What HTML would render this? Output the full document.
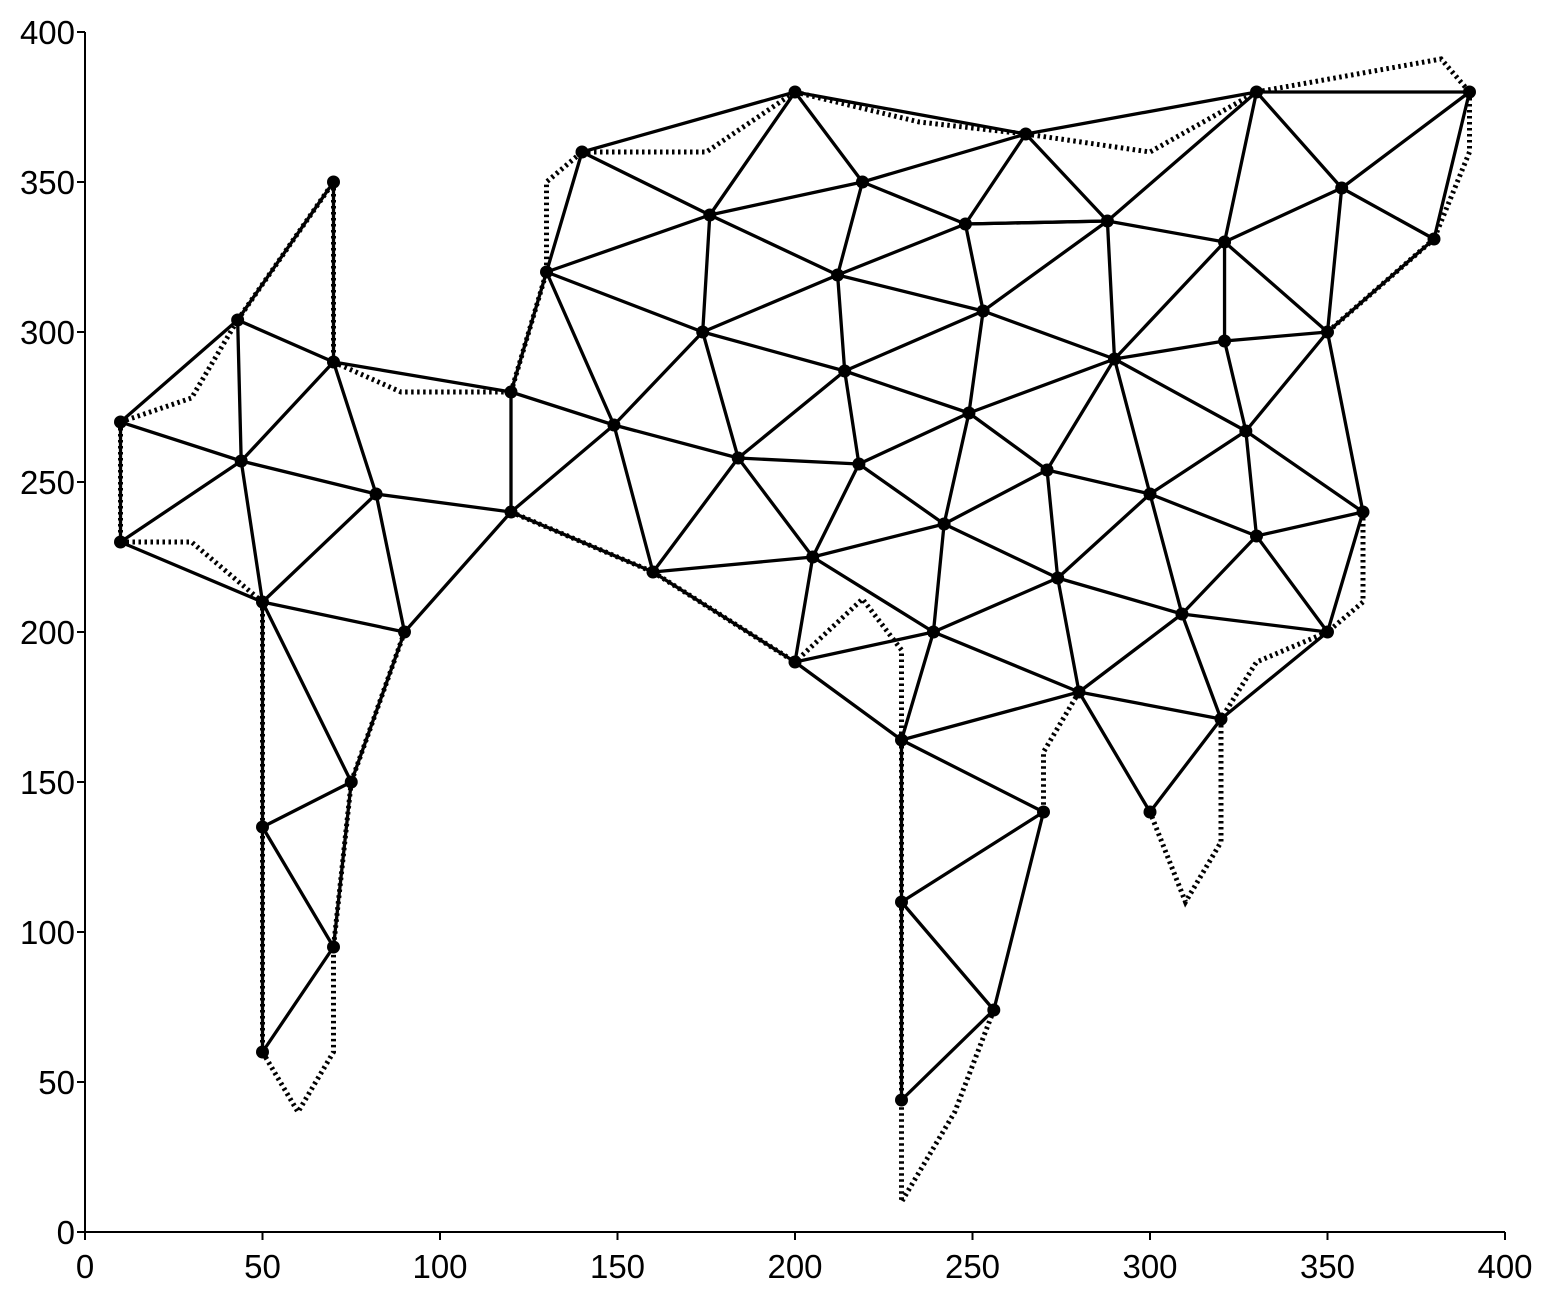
<!DOCTYPE html>
<html><head><meta charset="utf-8"><style>
html,body{margin:0;padding:0;background:#fff}
svg text{font-family:"Liberation Sans",Arial,sans-serif;font-size:33px;fill:#000}
</style></head><body>
<svg id="chart" width="1542" height="1302" viewBox="0 0 1542 1302" xmlns="http://www.w3.org/2000/svg">
<g id="axes"></g>
<g id="dotted"></g>
<g id="edges"></g>
<g id="nodes"></g>
</svg>
<script>
const xTicks=[0,50,100,150,200,250,300,350,400];
const yTicks=[0,50,100,150,200,250,300,350,400];
const nodeNames=["A","B","C","D","E","F","G","H","I","J","K","L","M","N","O","P","Q","R","S","T","U","V","W","X","Y","Z","AA","AB","AC","AD","AE","AF","AG","AH","AI","AJ","AK","AL","AM","AN","AO","AP","AQ","AR","AS","AT","AU","AV","AW","AX","AY","AZ","BA","BB","BC","BD","BE","BF","BG","BH"];
const nodeX=[10,10,43,44,70,70,82,50,90,75,50,70,50,120,120,130,140,200,149,160,176,174,184,219,212,214,218,205,200,265,248,253,249,242,239,230,288,290,271,274,280,300,309,320,270,300,230,256,230,330,390,321,354,380,321,350,327,360,330,350];
const nodeY=[270,230,304,257,350,290,246,210,200,150,135,95,60,280,240,320,360,380,269,220,339,300,258,350,319,287,256,225,190,366,336,307,273,236,200,164,337,291,254,218,180,246,206,171,140,140,110,74,44,380,380,330,348,331,297,300,267,240,232,200];
const edgeList=["A-B","A-C","A-D","B-D","B-H","C-D","C-F","C-E","E-F","D-F","D-G","D-H","F-G","F-N","G-H","G-I","G-O","H-I","H-J","H-K","I-J","I-O","J-K","J-L","K-L","K-M","L-M","N-O","N-S","O-S","O-T","N-P",
"Q-R","R-AD","R-U","R-X","X-AD","X-Y","X-AE","U-X","Q-U","Q-P","U-Y","U-V","P-U","P-V","P-S","V-Y","Y-AE","Y-Z","Y-AF","AE-AF","AE-AK","AF-Z","AF-AG","AF-AL","AF-AK","V-S","V-W","V-Z","S-W","S-T","W-Z","W-AA","W-AB","W-T","Z-AA","Z-AG","AA-AG","AA-AB","AA-AH","AG-AL","AG-AM","AG-AH",
"AD-AX","AD-AE","AD-AK","AX-AY","AX-AK","AX-AZ","AX-BA","AY-BA","AY-BB","BA-AZ","BA-BB","BA-BD","BB-BD","AE-AK","AK-AZ","AK-AL","AZ-AL","AZ-BC","AZ-BD","BC-AL","BC-BD","BC-BE","BD-BE","BD-BF","AL-AM","AL-AP","AL-BE","AM-AH","AM-AP","AM-AN","AP-BE","AP-BG","AP-AN","AP-AQ","BE-BG","BE-BF","BF-BG","BG-AQ","BG-BH","BF-BH",
"AB-T","AB-AH","AB-AC","AB-AI","T-AC","AH-AI","AH-AN","AN-AI","AN-AQ","AN-AO","AI-AC","AI-AJ","AI-AO","AQ-AO","AQ-BH","AQ-AR","AO-AR","AO-AJ","AO-AT","AJ-AC","AJ-AS","AJ-AU","AR-BH","AR-AT","AS-AU","AS-AV","AU-AW","AU-AV","AW-AV"];
const dottedX=[[10,30,43],[10,30,50],[70,89,120],[50,60,70,70],[75,70],[90,75],[120,140,160],[120,130,130,140],[140,175,200],[200,235,265],[265,300,330],[330,382,390],[390,390,380],[380,350],[360,360,350],[350,330,320],[320,320,310,300],[280,270,270],[256,245,230,230],[230,230,219,200],[160,200],[50,50],[70,70],[10,10],[43,70],[230,230]];
const dottedY=[[270,278,304],[230,230,210],[290,280,280],[60,40,60,95],[150,95],[200,150],[240,230,220],[280,320,350,360],[360,360,380],[380,370,366],[366,360,380],[380,391,380],[380,360,331],[331,300],[240,210,200],[200,190,171],[171,130,110,140],[180,160,140],[74,40,10,44],[164,194,211,190],[220,190],[210,60],[350,290],[270,230],[304,350],[164,44]];
const X=v=>85+v*3.55, Y=v=>1232-v*3;
const NS="http://www.w3.org/2000/svg";
function mk(t,a,p){const e=document.createElementNS(NS,t);for(const k in a)e.setAttribute(k,a[k]);p.appendChild(e);return e;}
const ax=document.getElementById('axes');
let l=mk('line',{x1:85,y1:1232,x2:1505,y2:1232,stroke:'#000','stroke-width':2},ax);

l=mk('line',{x1:85,y1:32,x2:85,y2:1232,stroke:'#000','stroke-width':2},ax);

xTicks.forEach(t=>{const tk=mk('line',{x1:X(t),y1:1232,x2:X(t),y2:1240,stroke:'#000','stroke-width':2},ax);

const tx=mk('text',{x:X(t),y:1278,'text-anchor':'middle'},ax);tx.textContent=t;
});
yTicks.forEach(t=>{const tk=mk('line',{x1:77,y1:Y(t),x2:85,y2:Y(t),stroke:'#000','stroke-width':2},ax);

const tx=mk('text',{x:75,y:Y(t)+12,'text-anchor':'end'},ax);tx.textContent=t;
});
const dg=document.getElementById('dotted');
dottedX.forEach((xs,i)=>{const pts=xs.map((v,j)=>X(v)+','+Y(dottedY[i][j])).join(' ');
const p=mk('polyline',{points:pts,fill:'none',stroke:'#000','stroke-width':5,'stroke-dasharray':'2.5 3.5'},dg);
});
const idx={};nodeNames.forEach((n,i)=>idx[n]=i);
const eg=document.getElementById('edges');
edgeList.forEach(e=>{const [a,b]=e.split('-');const i=idx[a],j=idx[b];
const ln=mk('line',{x1:X(nodeX[i]),y1:Y(nodeY[i]),x2:X(nodeX[j]),y2:Y(nodeY[j]),stroke:'#000','stroke-width':3.3,'stroke-linecap':'round'},eg);
});
const ng=document.getElementById('nodes');
nodeNames.forEach((n,i)=>{const c=mk('circle',{cx:X(nodeX[i]),cy:Y(nodeY[i]),r:6.5,fill:'#000'},ng);
});
</script>
</body></html>
